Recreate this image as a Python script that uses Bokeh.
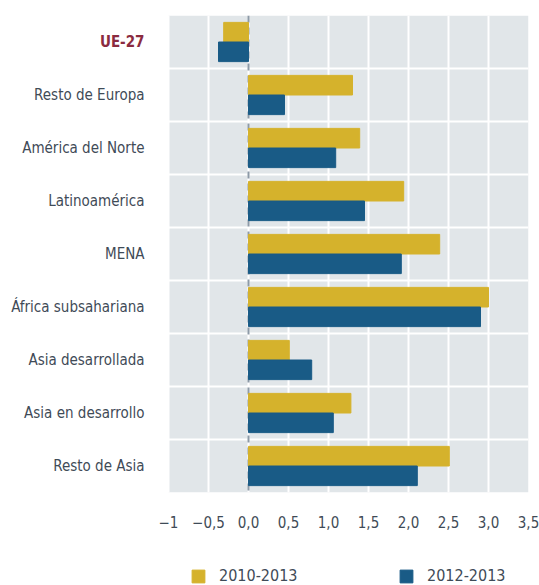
from bokeh.plotting import figure
from bokeh.layouts import column
from bokeh.models import (ColumnDataSource, Range1d, FixedTicker, Span,
                          BoxAnnotation, Legend, LegendItem)
from bokeh.core.properties import value
from bokeh.transform import dodge
from bokeh.embed import file_html
from bokeh.resources import INLINE

# ---- data (top to bottom) ----
categories = ["UE-27", "Resto de Europa", "América del Norte", "Latinoamérica",
              "MENA", "África subsahariana", "Asia desarrollada",
              "Asia en desarrollo", "Resto de Asia"]
v_2010_2013 = [-0.31, 1.30, 1.39, 1.94, 2.39, 3.00, 0.51, 1.28, 2.51]
v_2012_2013 = [-0.375, 0.45, 1.09, 1.45, 1.91, 2.90, 0.79, 1.06, 2.11]
series_names = ["2010-2013", "2012-2013"]
highlight = "UE-27"
x_ticks = [-1, -0.5, 0, 0.5, 1, 1.5, 2, 2.5, 3, 3.5]
x_tick_labels = ["\u22121", "\u22120,5", "0,0", "0,5", "1,0", "1,5", "2,0",
                 "2,5", "3,0", "3,5"]

YELLOW = "#d5b22c"
BLUE = "#195b86"
BG = "#e1e6e9"
TXT = "#3f4b57"
RED = "#8b2b40"
FONT = "'Liberation Sans Narrow', 'DejaVu Sans Condensed', sans-serif"

n = len(categories)
ypos = [n - 1 - i for i in range(n)]
src = ColumnDataSource(dict(y=ypos, a=v_2010_2013, b=v_2012_2013))

x_lo, x_hi = x_ticks[0], x_ticks[-1]
label_room = 2.1  # data units left of the axis start reserved for labels

p = figure(frame_width=528, frame_height=477, output_backend="svg",
           toolbar_location=None, x_range=Range1d(x_lo - label_room, x_hi),
           y_range=Range1d(-0.5, n - 0.5),
           min_border_left=0, min_border_top=15, min_border_right=11,
           min_border_bottom=45)
p.background_fill_color = "white"
p.border_fill_color = "white"
p.outline_line_color = None
p.yaxis.visible = False

# plotting-area background only over the value range
p.add_layout(BoxAnnotation(left=x_lo, right=x_hi, fill_color=BG, fill_alpha=1,
                           line_alpha=0, level="image"))

# grids
p.xgrid.ticker = FixedTicker(ticks=x_ticks)
p.xgrid.grid_line_color = "white"
p.xgrid.grid_line_width = 2
p.ygrid.ticker = FixedTicker(ticks=[k + 0.5 for k in range(n - 1)])
p.ygrid.grid_line_color = "white"
p.ygrid.grid_line_width = 2
p.ygrid.bounds = (x_lo, x_hi)

# zero dashed line (behind bars)
p.add_layout(Span(location=0, dimension="height", line_color="#8d9aa7",
                  line_width=2, line_dash="7 5", level="underlay"))

p.hbar(y=dodge("y", 0.185, range=p.y_range), left=0, right="a",
       height=0.37, color=YELLOW, source=src)
p.hbar(y=dodge("y", -0.185, range=p.y_range), left=0, right="b",
       height=0.37, color=BLUE, source=src)

# category labels
norm = [(y, c) for y, c in zip(ypos, categories) if c != highlight]
hi = [(y, c) for y, c in zip(ypos, categories) if c == highlight]
lab_src = ColumnDataSource(dict(y=[t[0] for t in norm], t=[t[1] for t in norm]))
hi_src = ColumnDataSource(dict(y=[t[0] for t in hi], t=[t[1] for t in hi]))
p.text(x=x_lo, y="y", text="t", source=lab_src, x_offset=-24,
       text_align="right", text_baseline="middle", text_font=value(FONT),
       text_font_size="15px", text_color=TXT)
p.text(x=x_lo, y="y", text="t", source=hi_src, x_offset=-24,
       text_align="right", text_baseline="middle", text_font=value(FONT),
       text_font_size="15px", text_font_style="bold", text_color=RED)

# x axis
xa = p.xaxis[0]
xa.ticker = FixedTicker(ticks=x_ticks)
xa.major_label_overrides = {t: l for t, l in zip(x_ticks, x_tick_labels)}
xa.axis_line_color = None
xa.major_tick_line_color = None
xa.minor_tick_line_color = None
xa.major_label_standoff = 17
xa.major_label_text_font = FONT
xa.major_label_text_font_size = "15px"
xa.major_label_text_color = TXT

# legend strip (separate small figure so the legend is not clipped)
lp = figure(width=539, height=48, output_backend="svg", toolbar_location=None,
            x_axis_type=None, y_axis_type=None,
            x_range=Range1d(x_lo, x_hi), y_range=Range1d(100, 101),
            min_border=0)
lp.outline_line_color = None
lp.background_fill_color = "white"
lr1 = lp.hbar(y="y", left=0, right="a", height=0.37, color=YELLOW, source=src)
lr2 = lp.hbar(y="y", left=0, right="b", height=0.37, color=BLUE, source=src)
lg = Legend(items=[LegendItem(label=series_names[0], renderers=[lr1]),
                   LegendItem(label=series_names[1], renderers=[lr2])],
            location=(190, 0), orientation="horizontal",
            glyph_width=16, glyph_height=16, label_standoff=13,
            label_width=179, spacing=0,
            padding=0, margin=0, border_line_alpha=0,
            background_fill_alpha=0, label_text_font=FONT,
            label_text_font_size="16px", label_text_color=TXT)
lp.add_layout(lg, "center")

layout = column(p, lp, spacing=0)
open("out.html", "w").write(file_html(layout, INLINE))
